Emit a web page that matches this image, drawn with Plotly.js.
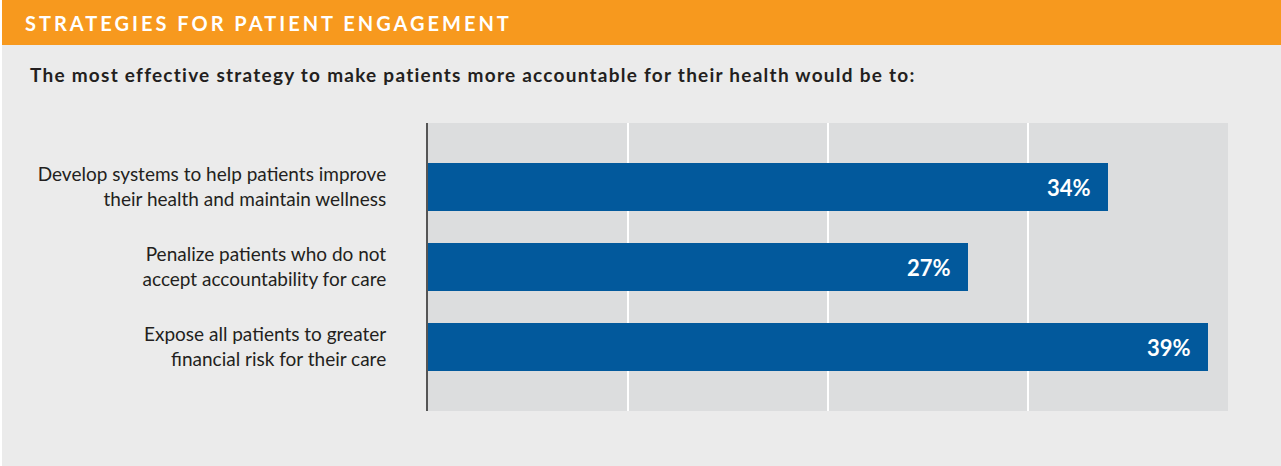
<!DOCTYPE html>
<html>
<head>
<meta charset="utf-8">
<script src="https://cdn.plot.ly/plotly-3.0.1.min.js"></script>
<style>
html,body{margin:0;padding:0;background:#ebebeb;}
#chart{width:1281px;height:466px;}
</style>
</head>
<body>
<div id="chart"></div>
<script>
const categories = [
  "Develop systems to help patients improve<br>their health and maintain wellness",
  "Penalize patients who do not<br>accept accountability for care",
  "Expose all patients to greater<br>financial risk for their care"
];
const values = [34, 27, 39];
const valueLabels = ["34%", "27%", "39%"];
const headerText = "STRATEGIES FOR PATIENT ENGAGEMENT";
const subtitleText = "The most effective strategy to make patients more accountable for their health would be to:";

const W = 1281, H = 466;
const M = {l: 428, r: 53, t: 123, b: 55};
const PW = W - M.l - M.r, PH = H - M.t - M.b;
const px = x => (x - M.l) / PW;
const py = y => (H - M.b - y) / PH;

const FONT = "Lato, 'Open Sans', sans-serif";

const trace = {
  type: "bar",
  orientation: "h",
  x: values,
  y: categories,
  marker: {color: "#02599c"},
  width: 0.6,
  hoverinfo: "skip"
};

const annotations = values.map((v, i) => ({
  x: v, y: categories[i], xref: "x", yref: "y",
  text: "<b>" + valueLabels[i] + "</b>",
  showarrow: false, xanchor: "right", yanchor: "middle",
  xshift: -15,
  font: {family: FONT, size: 22, color: "#ffffff"}
}));

annotations.push({
  x: px(23), y: py(23), xref: "paper", yref: "paper",
  text: "<b>" + headerText + "</b>", showarrow: false,
  xanchor: "left", yanchor: "middle",
  font: {family: FONT, size: 20, color: "#ffffff"}
});
annotations.push({
  x: px(28), y: py(75), xref: "paper", yref: "paper",
  text: "<b>" + subtitleText + "</b>", showarrow: false,
  xanchor: "left", yanchor: "middle",
  font: {family: FONT, size: 19, color: "#231f20"}
});

const layout = {
  width: W, height: H,
  margin: M,
  paper_bgcolor: "#ebebeb",
  plot_bgcolor: "#dcddde",
  showlegend: false,
  xaxis: {
    range: [0, 40], dtick: 10, showticklabels: false,
    showgrid: true, gridcolor: "#ffffff", gridwidth: 2,
    zeroline: false, showline: false, fixedrange: true
  },
  yaxis: {
    range: [2.8, -0.8], type: "category",
    showline: true, linecolor: "#555555", linewidth: 2,
    ticks: "", ticklabelstandoff: 36,
    tickfont: {family: FONT, size: 19, color: "#231f20"},
    showgrid: false, zeroline: false, fixedrange: true
  },
  shapes: [
    {type: "rect", xref: "paper", yref: "paper",
     x0: px(0), x1: px(W), y0: py(45), y1: py(0),
     fillcolor: "#f7991e", line: {width: 0}, layer: "below"},
    {type: "rect", xref: "paper", yref: "paper",
     x0: px(0), x1: px(2), y0: py(H), y1: py(0),
     fillcolor: "#ffffff", line: {width: 0}, layer: "below"}
  ],
  annotations: annotations
};

function spreadText(text, leftX, targetWidth) {
  document.querySelectorAll(".annotation-text").forEach(el => {
    if (el.textContent === text) {
      const bb = el.getBBox();
      const n = text.length;
      const ls = (targetWidth - bb.width) / (n - 1);
      el.style.letterSpacing = ls.toFixed(2) + "px";
      el.setAttribute("text-anchor", "start");
      el.setAttribute("x", bb.x);
    }
  });
}

Plotly.newPlot("chart", [trace], layout, {displayModeBar: false, staticPlot: true}).then(() => {
  spreadText(headerText, 23, 484);
  spreadText(subtitleText, 28, 884);
});
</script>
</body>
</html>
